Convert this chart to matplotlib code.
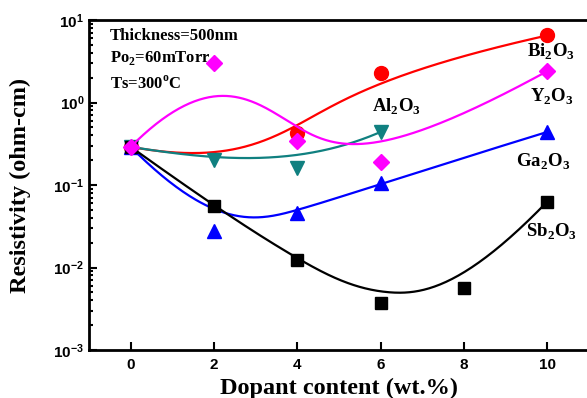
import numpy as np
import matplotlib
matplotlib.use('Agg')
import matplotlib.pyplot as plt
from matplotlib.ticker import LogLocator, NullFormatter

# resistivity vs dopant content for several oxide dopants
# markers are the measured values, lines are b-splines (data points used
# as control points, done in log space like origin does it)

x_bi = [0, 2, 4, 6, 10]
bi2o3 = [0.29, 0.19, 0.43, 2.3, 6.5]
bi_shown = [0, 2, 3, 4]   # the 2 wt.% point sits under the Al2O3 marker

x_y = [0, 2, 4, 6, 10]
y2o3 = [0.29, 3.0, 0.34, 0.19, 2.4]

x_al = [0, 2, 4, 6]
al2o3 = [0.29, 0.2, 0.16, 0.44]

x_ga = [0, 2, 4, 6, 10]
ga2o3 = [0.29, 0.028, 0.046, 0.105, 0.44]

x_sb = [0, 2, 4, 6, 8, 10]
sb2o3 = [0.29, 0.055, 0.0122, 0.0037, 0.0057, 0.063]

serif = 'Liberation Serif'
sans = 'Liberation Sans'
plt.rcParams['mathtext.fontset'] = 'custom'
plt.rcParams['mathtext.bf'] = 'Liberation Serif:bold'
plt.rcParams['mathtext.rm'] = 'Liberation Serif:bold'


def bspline(xs, ys, k=3, n=300):
    # clamped b-spline, control points = data points
    P = np.column_stack([xs, np.log10(ys)])
    m = len(P)
    k = min(k, m - 1)
    inner = np.linspace(0, 1, m - k + 1)
    knots = np.concatenate([[0] * k, inner, [1] * k])
    t = np.linspace(0, 1, n)
    t[-1] = 1 - 1e-9

    def basis(i, p, u):
        if p == 0:
            return ((knots[i] <= u) & (u < knots[i + 1])).astype(float)
        a = 0.0
        b = 0.0
        d1 = knots[i + p] - knots[i]
        d2 = knots[i + p + 1] - knots[i + 1]
        if d1 > 0:
            a = (u - knots[i]) / d1 * basis(i, p - 1, u)
        if d2 > 0:
            b = (knots[i + p + 1] - u) / d2 * basis(i + 1, p - 1, u)
        return a + b

    B = np.array([basis(i, k, t) for i in range(m)])
    C = B.T @ P
    return C[:, 0], 10 ** C[:, 1]


fig = plt.figure(figsize=(5.87, 3.98), dpi=100)
ax = fig.add_axes([89/587, 48/398, 500/587, 330/398])

series = [
    (x_bi, bi2o3, 'red', 'o', 10, bi_shown),
    (x_al, al2o3, '#108080', 'v', 10, None),
    (x_ga, ga2o3, 'blue', '^', 10, None),
    (x_sb, sb2o3, 'black', 's', 9, None),
    (x_y, y2o3, '#ff00ff', 'D', 8.5, None),
]
for xs, ys, col, mk, ms, every in series:
    xx, yy = bspline(xs, ys)
    ax.plot(xx, yy, color=col, lw=1.6)
    ax.plot(xs, ys, ls='none', marker=mk, color=col, ms=ms, markevery=every)

ax.set_yscale('log')
ax.set_xlim(-1, 11)
ax.set_ylim(1e-3, 10)
ax.set_xticks([0, 2, 4, 6, 8, 10])
ax.yaxis.set_major_locator(LogLocator(base=10, numticks=10))
ax.yaxis.set_minor_locator(LogLocator(base=10, subs=np.arange(2, 10), numticks=10))
ax.yaxis.set_minor_formatter(NullFormatter())
ax.tick_params(direction='in', which='both', width=1.5)
ax.tick_params(which='major', length=6)
ax.tick_params(which='minor', length=3)
ax.tick_params(axis='x', which='minor', bottom=False)
ax.tick_params(axis='x', pad=6)
for lab in ax.get_xticklabels() + ax.get_yticklabels():
    lab.set_fontfamily(sans)
    lab.set_fontweight('bold')
    lab.set_fontsize(11)
for s in ax.spines.values():
    s.set_linewidth(2)

ax.set_xlabel('Dopant content (wt.%)', fontfamily=serif, fontweight='bold', fontsize=17.5, labelpad=4)
ax.set_ylabel('Resistivity (ohm-cm)', fontfamily=serif, fontweight='bold', fontsize=17.5, labelpad=16)

tfont = dict(fontfamily=serif, fontweight='bold', fontsize=12, va='center', transform=ax.transAxes)
ax.text(0.042, 0.952, 'Thickness=500nm', **tfont)
ax.text(0.042, 0.885, r'Po$_\mathbf{2}$=60mTorr', **tfont)
ax.text(0.042, 0.806, r'Ts=300$^\mathbf{o}$C', **tfont)

lfont = dict(fontfamily=serif, fontweight='bold', fontsize=13.5, ha='center', va='center')
ax.text(10.09, 4.15, r'Bi$_\mathbf{2}$O$_\mathbf{3}$', **lfont)
ax.text(10.1, 1.18, r'Y$_\mathbf{2}$O$_\mathbf{3}$', **lfont)
ax.text(6.39, 0.89, r'Al$_\mathbf{2}$O$_\mathbf{3}$', **lfont)
ax.text(9.9, 0.193, r'Ga$_\mathbf{2}$O$_\mathbf{3}$', **lfont)
ax.text(10.09, 0.0273, r'Sb$_\mathbf{2}$O$_\mathbf{3}$', **lfont)

fig.savefig('out.png', dpi=100)
